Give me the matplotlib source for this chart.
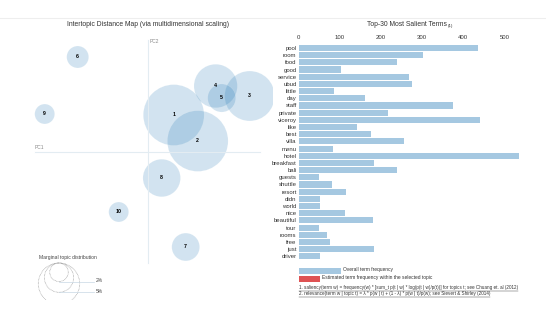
import matplotlib.pyplot as plt
from matplotlib.patches import Circle, Rectangle
import numpy as np

plt.rcParams['font.family'] = ['Liberation Sans', 'DejaVu Sans']

# intertopic map (PC coordinates, marginal topic size in %)
topics = ['1', '2', '3', '4', '5', '6', '7', '8', '9', '10']
pc1 = [0.26, 0.50, 1.02, 0.68, 0.74, -0.70, 0.38, 0.14, -1.03, -0.29]
pc2 = [0.37, 0.11, 0.56, 0.66, 0.54, 0.95, -0.95, -0.26, 0.38, -0.60]
topic_pct = [21.5, 21.5, 14.5, 11.0, 4.6, 2.8, 4.5, 8.2, 2.3, 2.3]

legend_pct = [2, 5, 10]

# top-30 salient terms
terms = ['pool', 'room', 'food', 'good', 'service', 'ubud', 'little', 'day', 'staff',
         'private', 'viceroy', 'like', 'best', 'villa', 'menu', 'hotel', 'breakfast',
         'bali', 'guests', 'shuttle', 'resort', 'didn', 'world', 'nice', 'beautiful',
         'tour', 'rooms', 'free', 'just', 'driver']
term_freq = [435, 303, 240, 104, 267, 275, 85, 162, 376, 218, 441, 141, 175, 257, 83,
             536, 183, 240, 49, 80, 114, 53, 52, 113, 181, 49, 68, 76, 182, 51]
freq_ticks = [0, 100, 200, 300, 400, 500]

W, H = 546, 334


def fig_box(x0, y0, x1, y1):
    # pixel box (top-left origin) -> figure fraction rect
    return [x0 / W, 1 - y1 / H, (x1 - x0) / W, (y1 - y0) / H]


fig = plt.figure(figsize=(W / 100, H / 100), dpi=100)

# page border line at top
fig.add_artist(plt.Line2D([0, 1], [1 - 18 / H, 1 - 18 / H], color='#eeeeee', lw=0.8))

# ---------- left: intertopic distance map ----------
scale = 100.0  # px per PC unit
ox, oy = 147.7, 152.0
axl = fig.add_axes(fig_box(0, 0, 273, H))
axl.set_xlim((0 - ox) / scale, (273 - ox) / scale)
axl.set_ylim((oy - H) / scale, oy / scale)
axl.set_axis_off()

k = 6.55 / scale  # radius per sqrt(%)
axl.plot([(35 - ox) / scale, (260 - ox) / scale], [0, 0], color='#e3ecf2', lw=0.8)
axl.plot([0, 0], [(oy - 263) / scale, (oy - 40) / scale], color='#e3ecf2', lw=0.8)
axl.text((35 - ox) / scale, 0.02, 'PC1', fontsize=3.5, color='#888888', va='bottom')
axl.text(0.02, (oy - 42) / scale, 'PC2', fontsize=3.5, color='#888888', va='center')

for t, x, y, p in zip(topics, pc1, pc2, topic_pct):
    r = k * np.sqrt(p)
    axl.add_patch(Circle((x, y), r, facecolor='#1f77b4', alpha=0.2,
                         edgecolor='white', lw=0.4))
    axl.text(x, y, t, fontsize=3.8, fontweight='bold', ha='center', va='center')

axl.text(0, (oy - 25) / scale, 'Intertopic Distance Map (via multidimensional scaling)',
         fontsize=4.9, ha='center', va='center', color='#333333')

# marginal topic distribution legend
lx, ltop = (59 - ox) / scale, (oy - 263) / scale
axl.text((39 - ox) / scale, (oy - 258) / scale, 'Marginal topic distribution',
         fontsize=3.6, color='#444444', va='center')
clip = Rectangle(((0 - ox) / scale, (oy - 300) / scale), 3, 1, transform=axl.transData)
for p in legend_pct:
    r = k * np.sqrt(p)
    c = Circle((lx, ltop - r), r, fill=False, edgecolor='#999999', lw=0.5, ls=(0, (1, 1)))
    axl.add_patch(c)
    c.set_clip_path(clip)
    if p != 10:
        yb = ltop - 2 * r
        axl.plot([lx, (94 - ox) / scale], [yb, yb], color='#c8d8e4', lw=0.5)
        axl.text((96 - ox) / scale, yb + 0.01, f'{p}%', fontsize=3.6,
                 color='#444444', va='center')

# ---------- right: salient terms ----------
row_h = (256.3 - 48) / 29
px_per = 0.4113
axr = fig.add_axes(fig_box(298.7, 48 - row_h / 2, 298.7 + 540 * px_per, 256.3 + row_h / 2))
ypos = np.arange(len(terms))
axr.barh(ypos, term_freq, height=0.85, color='#1f77b4', alpha=0.4)
axr.set_xlim(0, 540)
axr.set_ylim(len(terms) - 0.5, -0.5)
axr.set_yticks(ypos)
axr.set_yticklabels(terms, fontsize=4.3, color='#333333')
axr.set_xticks(freq_ticks)
axr.xaxis.tick_top()
axr.tick_params(axis='x', length=0, pad=3, labelsize=4.3, labelcolor='#333333')
axr.tick_params(axis='y', length=0, pad=1.5)
for s in axr.spines.values():
    s.set_visible(False)

title_r = fig.text(367 / W, 1 - 25 / H, 'Top-30 Most Salient Terms', fontsize=4.9,
                   ha='left', va='center', color='#333333')
fig.canvas.draw()
tb = title_r.get_window_extent()
fig.text(tb.x1 / W + 0.5 / W, 1 - 26.5 / H, '(1)', fontsize=3.2, ha='left', va='center',
         color='#333333')

# legend boxes
fig.add_artist(Rectangle((298.7 / W, 1 - 274 / H), 42.5 / W, 5.7 / H,
                         facecolor='#1f77b4', alpha=0.4, transform=fig.transFigure))
fig.text(343 / W, 1 - 270 / H, 'Overall term frequency', fontsize=3.5, va='center',
         color='#333333')
fig.add_artist(Rectangle((298.7 / W, 1 - 282 / H), 21 / W, 6 / H,
                         facecolor='#d62728', alpha=0.8, transform=fig.transFigure))
fig.text(322 / W, 1 - 277.5 / H, 'Estimated term frequency within the selected topic',
         fontsize=3.5, va='center', color='#333333')

notes = ['1. saliency(term w) = frequency(w) * [sum_t p(t | w) * log(p(t | w)/p(t))] '
         'for topics t; see Chuang et. al (2012)',
         '2. relevance(term w | topic t) = \u03bb * p(w | t) + (1 - \u03bb) * p(w | t)/p(w); '
         'see Sievert & Shirley (2014)']
note_texts = []
for i, n in enumerate(notes):
    note_texts.append(fig.text(298.7 / W, 1 - (288 + 6 * i) / H, n, fontsize=3.35,
                               va='center', color='#333333'))
fig.canvas.draw()
for t in note_texts:
    bb = t.get_window_extent()
    yl = (bb.y0 - 0.3) / H
    fig.add_artist(plt.Line2D([bb.x0 / W, bb.x1 / W], [yl, yl], color='#555555', lw=0.35))

fig.savefig('out.png', dpi=100, facecolor='white')
